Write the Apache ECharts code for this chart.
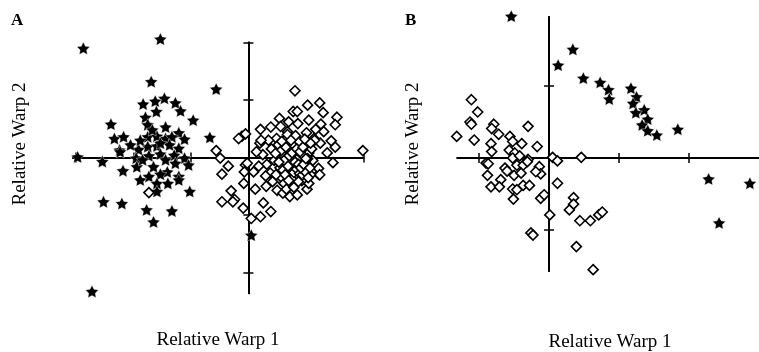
<!DOCTYPE html>
<html>
<head>
<meta charset="utf-8">
<script src="https://cdn.jsdelivr.net/npm/echarts@6.0.0/dist/echarts.min.js"></script>
<style>
  html, body { margin: 0; padding: 0; background: #fff; }
  #chart { width: 759px; height: 352px; }
</style>
</head>
<body>
<div id="chart"></div>
<script>
// Panel A: relative warp scores (tick units)
const starsA = [
  [-2.87, 1.90], [-1.53, 2.06], [-1.69, 1.32], [-0.56, 1.19], [-1.46, 1.03], [-1.83, 0.93],
  [-1.62, 0.98], [-1.27, 0.95], [-1.18, 0.81], [-1.60, 0.80], [-1.79, 0.70], [-0.96, 0.65],
  [-2.39, 0.58], [-1.75, 0.57], [-1.44, 0.53], [-1.21, 0.43], [-2.33, 0.33], [-2.17, 0.36],
  [-1.75, 0.36], [-1.59, 0.37], [-1.44, 0.33], [-1.33, 0.36], [-1.11, 0.32], [-0.67, 0.35],
  [-2.24, 0.13], [-1.91, 0.14], [-1.75, 0.19], [-1.59, 0.20], [-1.37, 0.22], [-1.21, 0.16],
  [-2.97, 0.01], [-2.54, -0.07], [-1.95, -0.01], [-1.73, 0.03], [-1.53, 0.06], [-1.29, 0.04],
  [-1.11, -0.01], [-2.18, -0.23], [-1.94, -0.16], [-1.65, -0.16], [-1.27, -0.10], [-1.04, -0.13],
  [-1.73, -0.33], [-1.41, -0.25], [-1.21, -0.33], [-2.23, 0.10], [-1.88, -0.39], [-1.53, -0.29],
  [-1.59, -0.45], [-1.40, -0.45], [-1.21, -0.39], [-1.02, -0.59], [-1.59, -0.59], [-2.52, -0.77],
  [-2.20, -0.80], [-1.77, -0.91], [-1.33, -0.93], [-1.65, -1.12], [-2.72, -2.33], [0.05, -1.35],
  [-1.67, 0.48], [-1.88, 0.30], [-1.53, 0.25], [-1.84, -0.04], [-1.44, -0.04], [-2.05, 0.22]
];
const diamondsA = [
  [-0.11, 0.37], [-0.05, 0.41], [-0.56, 0.12], [-0.49, -0.01], [-0.35, -0.15], [-0.46, -0.29],
  [-0.05, -0.13], [-0.07, -0.25], [0.81, 1.16], [1.03, 0.91], [1.24, 0.95], [0.78, 0.80],
  [0.85, 0.80], [1.30, 0.78], [1.05, 0.65], [1.54, 0.70], [0.54, 0.68], [1.26, 0.58],
  [1.51, 0.57], [0.86, 0.59], [0.70, 0.62], [0.56, 0.54], [0.21, 0.49], [0.39, 0.53],
  [-0.17, 0.33], [1.17, 0.49], [1.31, 0.45], [0.68, 0.45], [1.01, 0.43], [0.20, 0.25],
  [0.49, 0.33], [1.14, 0.33], [1.44, 0.29], [1.51, 0.18], [1.25, 0.25], [1.99, 0.12],
  [1.37, 0.08], [1.47, -0.09], [-0.02, -0.10], [0.09, -0.25], [1.22, -0.29], [-0.08, -0.45],
  [-0.30, -0.58], [-0.24, -0.73], [-0.27, -0.77], [-0.46, -0.77], [-0.09, -0.88], [0.05, -1.06],
  [0.21, -1.03], [0.26, -0.79], [0.39, -0.94], [0.12, -0.55], [0.31, -0.50], [0.50, -0.57],
  [0.60, -0.62], [0.72, -0.68], [0.85, -0.65], [1.02, -0.55], [1.05, -0.45], [1.22, -0.19],
  [1.24, -0.30], [0.38, -0.27], [0.56, -0.39], [0.82, -0.45], [0.67, -0.48], [-1.73, -0.61],
  [0.25, 0.05], [0.32, -0.12], [0.40, 0.15], [0.45, -0.05], [0.52, 0.22], [0.55, -0.18],
  [0.60, 0.05], [0.63, 0.30], [0.66, -0.10], [0.70, 0.12], [0.72, -0.28], [0.75, 0.00],
  [0.78, 0.20], [0.80, -0.15], [0.83, 0.08], [0.86, -0.32], [0.88, 0.28], [0.90, -0.05],
  [0.92, 0.14], [0.95, -0.20], [0.97, 0.03], [1.00, 0.22], [1.02, -0.12], [1.05, 0.08],
  [1.08, -0.30], [1.10, 0.15], [1.12, -0.05], [0.58, -0.35], [0.48, -0.30], [0.35, 0.30],
  [0.30, -0.32], [0.68, 0.40], [0.82, 0.38], [0.93, -0.40], [1.15, 0.30], [0.42, -0.42],
  [0.62, -0.45], [0.76, -0.38], [0.18, -0.15], [0.14, 0.10], [0.22, 0.30], [0.85, -0.02],
  [0.73, 0.10], [0.98, -0.08], [0.88, 0.00], [0.78, -0.05], [0.93, 0.05], [1.03, -0.02],
  [0.67, 0.00], [0.57, 0.12],
  [0.60, -0.22], [0.64, -0.30], [0.70, -0.40], [0.74, -0.18], [0.79, -0.26], [0.84, -0.20],
  [0.89, -0.28], [0.94, -0.30], [0.99, -0.25], [1.04, -0.35], [0.62, -0.05], [0.69, -0.15],
  [0.81, -0.08], [0.87, -0.12], [0.91, -0.18], [0.96, -0.12], [1.00, -0.02], [1.07, -0.18],
  [0.71, 0.03], [0.76, 0.08], [0.84, 0.15], [0.90, 0.10], [0.95, 0.18], [0.65, 0.18],
  [0.53, -0.08], [0.47, 0.07], [0.58, 0.28], [0.74, 0.30], [1.08, 0.25], [0.98, 0.32],
  [0.87, -0.42], [0.66, -0.55], [0.79, -0.52]
];

// Panel B
const starsB = [
  [-0.54, 1.97], [0.13, 1.29], [0.34, 1.51], [0.49, 1.11], [0.73, 1.05], [0.85, 0.95],
  [0.86, 0.82], [1.17, 0.97], [1.25, 0.85], [1.20, 0.76], [1.36, 0.67], [1.24, 0.63],
  [1.41, 0.54], [1.33, 0.46], [1.41, 0.38], [1.54, 0.32], [1.84, 0.40], [2.28, -0.29],
  [2.87, -0.35], [2.43, -0.90]
];
const diamondsB = [
  [-1.11, 0.81], [-1.02, 0.64], [-1.13, 0.50], [-1.11, 0.47], [-0.79, 0.47], [-0.82, 0.41],
  [-0.72, 0.33], [-0.30, 0.44], [-1.32, 0.30], [-1.07, 0.25], [-0.83, 0.20], [-0.56, 0.30],
  [-0.52, 0.23], [-0.39, 0.20], [-0.17, 0.16], [0.05, 0.01], [0.12, -0.04], [0.46, 0.01],
  [-0.14, -0.12], [-0.12, -0.22], [-0.82, 0.09], [-0.57, 0.11], [-0.49, 0.07], [-0.90, -0.07],
  [-0.87, -0.08], [-0.52, 0.00], [-0.42, 0.03], [-0.30, -0.02], [-0.63, -0.14], [-0.60, -0.18],
  [-0.46, -0.10], [-0.37, -0.10], [-0.31, -0.05], [-0.19, -0.19], [-0.88, -0.24], [-0.69, -0.30],
  [-0.50, -0.24], [-0.40, -0.21], [-0.83, -0.40], [-0.71, -0.40], [-0.52, -0.43], [-0.46, -0.44],
  [-0.37, -0.38], [-0.28, -0.38], [-0.51, -0.57], [-0.12, -0.56], [-0.07, -0.51], [0.12, -0.35],
  [0.35, -0.55], [0.35, -0.64], [0.29, -0.72], [0.01, -0.79], [0.44, -0.87], [0.59, -0.87],
  [0.71, -0.79], [0.76, -0.75], [-0.26, -1.04], [-0.23, -1.07], [0.39, -1.23], [0.63, -1.55]
];

const ticksAx = [-3, -2, -1, 1, 2];
const ticksAy = [-2, -1, 1, 2];
const ticksBx = [-1, 1, 2];
const ticksBy = [-1, 1];

const STAR = 'path://M50,0 L64.69,29.77 L97.55,34.55 L73.78,57.73 L79.39,90.45 L50,75 L20.61,90.45 L26.22,57.73 L2.45,34.55 L35.31,29.77 Z';
const FONT = '"Liberation Serif", "Times New Roman", serif';

function axis(pos, grid, min, max, ticks, onZeroIdx) {
  return {
    type: 'value', gridIndex: grid, position: pos, min: min, max: max,
    axisLine: { show: true, onZero: true, onZeroAxisIndex: onZeroIdx, lineStyle: { color: '#000', width: 2 } },
    axisTick: { show: true, inside: false, length: 5, customValues: ticks, lineStyle: { color: '#000', width: 1.5 } },
    axisLabel: { show: false },
    splitLine: { show: false }
  };
}

function starSeries(data, g) {
  return {
    type: 'scatter', xAxisIndex: g * 2, yAxisIndex: g * 2, data: data, clip: false,
    symbol: STAR, symbolKeepAspect: true, symbolSize: 13,
    itemStyle: { color: '#000', borderColor: '#fff', borderWidth: 0.4, opacity: 1 },
    silent: true, z: 2
  };
}
function diamondSeries(data, g) {
  return {
    type: 'scatter', xAxisIndex: g * 2, yAxisIndex: g * 2, data: data, clip: false,
    symbol: 'diamond', symbolSize: 10,
    itemStyle: { color: '#fff', borderColor: '#000', borderWidth: 1.6, opacity: 1 },
    silent: true, z: 3
  };
}

const chart = echarts.init(document.getElementById('chart'), null, { renderer: 'canvas' });
chart.setOption({
  animation: false,
  backgroundColor: '#fff',
  grid: [
    { left: 73, top: 42.5, width: 290.4, height: 250.7, containLabel: false },
    { left: 457.4, top: 16.9, width: 310.3, height: 254.2, containLabel: false }
  ],
  xAxis: [
    axis('bottom', 0, -3.05, 2, ticksAx, 0),
    axis('top', 0, -3.05, 2, ticksAx, 0),
    axis('bottom', 1, -1.31, 3, ticksBx, 2),
    axis('top', 1, -1.31, 3, ticksBx, 2)
  ],
  yAxis: [
    axis('left', 0, -2.36, 2, ticksAy, 0),
    axis('right', 0, -2.36, 2, ticksAy, 0),
    axis('left', 1, -1.57, 1.96, ticksBy, 2),
    axis('right', 1, -1.57, 1.96, ticksBy, 2)
  ],
  series: [
    starSeries(starsA, 0), diamondSeries(diamondsA, 0),
    starSeries(starsB, 1), diamondSeries(diamondsB, 1)
  ],
  graphic: [
    { type: 'text', left: 11, top: 12, style: { text: 'A', font: 'bold 17px ' + FONT, fill: '#000' } },
    { type: 'text', left: 405, top: 12, style: { text: 'B', font: 'bold 17px ' + FONT, fill: '#000' } },
    { type: 'text', x: 20, y: 144, rotation: Math.PI / 2,
      style: { text: 'Relative Warp 2', font: '19px ' + FONT, fill: '#000', align: 'center', verticalAlign: 'middle' } },
    { type: 'text', x: 413, y: 144, rotation: Math.PI / 2,
      style: { text: 'Relative Warp 2', font: '19px ' + FONT, fill: '#000', align: 'center', verticalAlign: 'middle' } },
    { type: 'text', x: 218, y: 340,
      style: { text: 'Relative Warp 1', font: '19px ' + FONT, fill: '#000', align: 'center', verticalAlign: 'middle' } },
    { type: 'text', x: 610, y: 342,
      style: { text: 'Relative Warp 1', font: '19px ' + FONT, fill: '#000', align: 'center', verticalAlign: 'middle' } }
  ]
});
</script>
</body>
</html>
